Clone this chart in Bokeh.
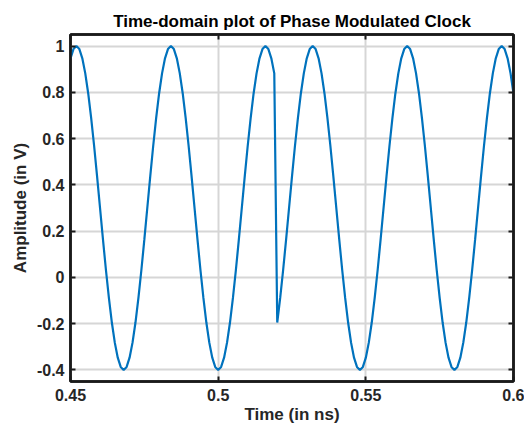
from bokeh.plotting import figure
from bokeh.models import Range1d, FixedTicker, LinearAxis
from bokeh.embed import file_html
from bokeh.resources import INLINE

# Sampling grid (ns)
t_start = 0.45
t_step = 0.001

# Amplitude samples (V), one per 0.001 ns from 0.450 to 0.600
amplitude_v = [
    0.947, 0.987,
    1.000, 0.987, 0.947, 0.882, 0.795, 0.689, 0.568, 0.437, 0.300, 0.163, 0.032, -0.089,
    -0.195, -0.282, -0.347, -0.387, -0.400, -0.387, -0.347, -0.282, -0.195, -0.089, 0.032,
    0.163, 0.300, 0.437, 0.568, 0.689, 0.795, 0.882, 0.947, 0.987,
    1.000, 0.987, 0.947, 0.882, 0.795, 0.689, 0.568, 0.437, 0.300, 0.163, 0.032, -0.089,
    -0.195, -0.282, -0.347, -0.387, -0.400, -0.387, -0.347, -0.282, -0.195, -0.089, 0.032,
    0.163, 0.300, 0.437, 0.568, 0.689, 0.795, 0.882, 0.947, 0.987,
    1.000, 0.987, 0.947, 0.882,
    # phase jump
    -0.195, -0.089, 0.032, 0.163, 0.300, 0.437, 0.568, 0.689, 0.795, 0.882, 0.947, 0.987,
    1.000, 0.987, 0.947, 0.882, 0.795, 0.689, 0.568, 0.437, 0.300, 0.163, 0.032, -0.089,
    -0.195, -0.282, -0.347, -0.387, -0.400, -0.387, -0.347, -0.282, -0.195, -0.089, 0.032,
    0.163, 0.300, 0.437, 0.568, 0.689, 0.795, 0.882, 0.947, 0.987,
    1.000, 0.987, 0.947, 0.882, 0.795, 0.689, 0.568, 0.437, 0.300, 0.163, 0.032, -0.089,
    -0.195, -0.282, -0.347, -0.387, -0.400, -0.387, -0.347, -0.282, -0.195, -0.089, 0.032,
    0.163, 0.300, 0.437, 0.568, 0.689, 0.795, 0.882, 0.947, 0.987,
    1.000, 0.987, 0.947, 0.882, 0.795,
]
time_ns = [round(t_start + t_step * i, 3) for i in range(len(amplitude_v))]

x_ticks = [0.45, 0.5, 0.55, 0.6]
x_tick_labels = ["0.45", "0.5", "0.55", "0.6"]
y_ticks = [-0.4, -0.2, 0, 0.2, 0.4, 0.6, 0.8, 1]
y_tick_labels = ["-0.4", "-0.2", "0", "0.2", "0.4", "0.6", "0.8", "1"]

FONT = "Liberation Sans"
TXT = "#262626"

p = figure(width=524, height=427, output_backend="svg", toolbar_location=None,
           x_range=Range1d(0.45, 0.6), y_range=Range1d(-0.45, 1.05),
           min_border_left=70, min_border_right=11, min_border_top=34, min_border_bottom=46)

xa = p.below[0]
ya = p.left[0]

p.title.text = "Time-domain plot of Phase Modulated Clock"
p.title.align = "center"
p.title.text_font = FONT
p.title.text_font_size = "17px"
p.title.text_font_style = "bold"
p.title.text_color = "black"
p.title.offset = 0
p.title.standoff = 8

p.line(time_ns, amplitude_v, line_color="#0072BD", line_width=2.2)

p.outline_line_color = "#1a1a1a"
p.outline_line_width = 2.5
p.outline_line_alpha = 1
p.background_fill_color = "white"
p.border_fill_color = "white"

# box axes on top and right (ticks only)
top_ax = LinearAxis(ticker=FixedTicker(ticks=x_ticks),
                    major_label_overrides={t: "" for t in x_ticks})
right_ax = LinearAxis(ticker=FixedTicker(ticks=y_ticks),
                      major_label_overrides={t: "" for t in y_ticks})
p.add_layout(top_ax, "above")
p.add_layout(right_ax, "right")
for ax in (top_ax, right_ax):
    ax.major_label_text_font_size = "1px"
    ax.major_label_standoff = 0

for ax in (xa, ya, top_ax, right_ax):
    ax.axis_line_color = "#1a1a1a"
    ax.axis_line_width = 2.5
    ax.major_tick_in = 5
    ax.major_tick_out = 0
    ax.major_tick_line_width = 2
    ax.major_tick_line_color = "#1a1a1a"
    ax.minor_tick_line_color = None

for ax in (xa, ya):
    ax.major_label_text_font = FONT
    ax.major_label_text_font_size = "16px"
    ax.major_label_text_font_style = "bold"
    ax.major_label_text_color = TXT
    ax.axis_label_text_font = FONT
    ax.axis_label_text_font_size = "17px"
    ax.axis_label_text_font_style = "bold"
    ax.axis_label_text_color = TXT

xa.ticker = FixedTicker(ticks=x_ticks)
xa.major_label_overrides = dict(zip(x_ticks, x_tick_labels))
xa.axis_label = "Time (in ns)"
xa.major_label_standoff = 7
xa.axis_label_standoff = 1

ya.ticker = FixedTicker(ticks=y_ticks)
ya.major_label_overrides = dict(zip(y_ticks, y_tick_labels))
ya.axis_label = "Amplitude (in V)"
ya.major_label_standoff = 6
ya.axis_label_standoff = 4

p.xgrid[0].ticker = FixedTicker(ticks=x_ticks)
p.ygrid[0].ticker = FixedTicker(ticks=y_ticks)
for g in (p.xgrid[0], p.ygrid[0]):
    g.grid_line_color = "#d6d6d6"
    g.grid_line_width = 2

open("out.html", "w").write(file_html(p, INLINE))
